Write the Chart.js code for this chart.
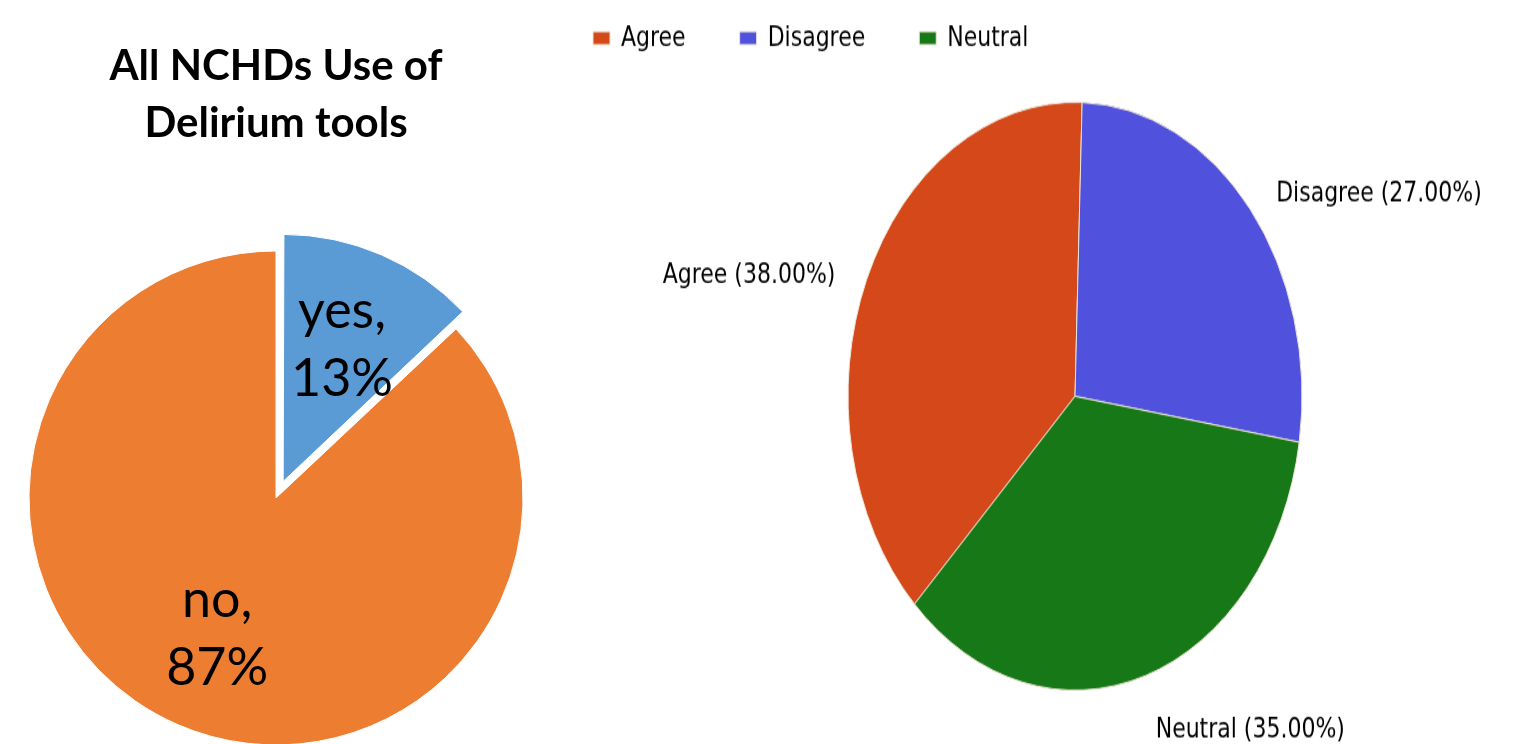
<!DOCTYPE html>
<html>
<head>
<meta charset="utf-8">
<script src="https://cdn.jsdelivr.net/npm/chart.js@4.4.1/dist/chart.umd.min.js"></script>
<style>
  html, body { margin: 0; padding: 0; background: #fff; width: 1522px; height: 744px; overflow: hidden; }
  #left { position: absolute; left: 0; top: 0; }
  /* the right pie is an oval in the picture, so the whole chart gets stretched */
  #rightWrap { position: absolute; left: 539px; top: -46.5px; width: 1072px; height: 640px;
               transform: scaleY(1.295); transform-origin: 0 0; }
</style>
</head>
<body>
<canvas id="left" width="552" height="744"></canvas>
<div id="rightWrap"><canvas id="right" width="1072" height="640"></canvas></div>

<script>
// left: use of delirium tools
const toolTitle = ['All NCHDs Use of', 'Delirium tools'];
const toolLabels = ['yes', 'no'];
const toolValues = [13, 87];
const toolColors = ['#5b9bd5', '#ed7d31'];
const toolOffset = [72, 0];

// right: opinion split
const opinionLabels = ['Agree', 'Disagree', 'Neutral'];
const opinionValues = [38, 27, 35];
const opinionColors = ['#d4481a', '#5052de', '#167816'];

// Chart.js grows an exploded slice's radius, put it back and write the labels inside
const leftPieLabels = {
  id: 'leftPieLabels',
  afterDatasetsUpdate(chart) {
    const ds = chart.data.datasets[0];
    chart.getDatasetMeta(0).data.forEach((arc, i) => {
      const off = (ds.offset[i] || 0) / 4;
      const circ = arc.endAngle - arc.startAngle;
      arc.outerRadius -= off * (1 - Math.sin(Math.min(Math.PI, circ)));
    });
  },
  afterDatasetsDraw(chart) {
    const ctx = chart.ctx;
    const ds = chart.data.datasets[0];
    const R = chart.getDatasetMeta(0).controller.outerRadius;
    ctx.save();
    ctx.fillStyle = '#000';
    ctx.font = '52px Lato';
    ctx.textAlign = 'center';
    ctx.textBaseline = 'middle';
    chart.getDatasetMeta(0).data.forEach((arc, i) => {
      const a = (arc.startAngle + arc.endAngle) / 2;
      const d = (ds.offset[i] || 0) / 4 + R * 0.6;
      const x = arc.x + Math.cos(a) * d;
      const y = arc.y + Math.sin(a) * d;
      ctx.fillText(chart.data.labels[i] + ',', x, y - 34);
      ctx.fillText(ds.data[i] + '%', x, y + 34);
    });
    ctx.restore();
  }
};

new Chart(document.getElementById('left'), {
  type: 'pie',
  data: {
    labels: toolLabels,
    datasets: [{
      data: toolValues,
      backgroundColor: toolColors,
      borderColor: '#ffffff',
      borderWidth: 1,
      offset: toolOffset
    }]
  },
  options: {
    responsive: false,
    animation: false,
    radius: 247,
    layout: { padding: 0 },
    plugins: {
      legend: { display: false },
      tooltip: { enabled: false },
      title: {
        display: true,
        text: toolTitle,
        color: '#000',
        font: { family: 'Lato', size: 42, weight: 'bold', lineHeight: 1.38 },
        padding: { top: 37, bottom: 99 }
      }
    }
  },
  plugins: [leftPieLabels]
});

// labels outside each slice, like "Agree (38.00%)"
const outsideLabels = {
  id: 'outsideLabels',
  afterDatasetsDraw(chart) {
    const ctx = chart.ctx;
    const ds = chart.data.datasets[0];
    const R = chart.getDatasetMeta(0).controller.outerRadius;
    ctx.save();
    ctx.fillStyle = '#000';
    ctx.font = '22px "DejaVu Sans"';
    ctx.textBaseline = 'middle';
    chart.getDatasetMeta(0).data.forEach((arc, i) => {
      const a = (arc.startAngle + arc.endAngle) / 2;
      const x = arc.x + Math.cos(a) * R * 1.15;
      const y = arc.y + Math.sin(a) * R * 1.15 + 10;
      ctx.textAlign = Math.cos(a) >= 0 ? 'left' : 'right';
      ctx.fillText(chart.data.labels[i] + ' (' + ds.data[i].toFixed(2) + '%)', x, y);
    });
    ctx.restore();
  }
};

new Chart(document.getElementById('right'), {
  type: 'pie',
  data: {
    labels: opinionLabels,
    datasets: [{
      data: opinionValues,
      backgroundColor: opinionColors,
      borderColor: '#ece4d4',
      borderWidth: 1
    }]
  },
  options: {
    responsive: false,
    animation: false,
    rotation: 225,
    radius: 227,
    layout: { padding: { bottom: 43 } },
    plugins: {
      tooltip: { enabled: false },
      legend: {
        position: 'top',
        align: 'start',
        labels: {
          boxWidth: 17,
          boxHeight: 10,
          padding: 54,
          color: '#000',
          font: { family: 'DejaVu Sans', size: 22 }
        }
      }
    }
  },
  plugins: [outsideLabels]
});
</script>
</body>
</html>
